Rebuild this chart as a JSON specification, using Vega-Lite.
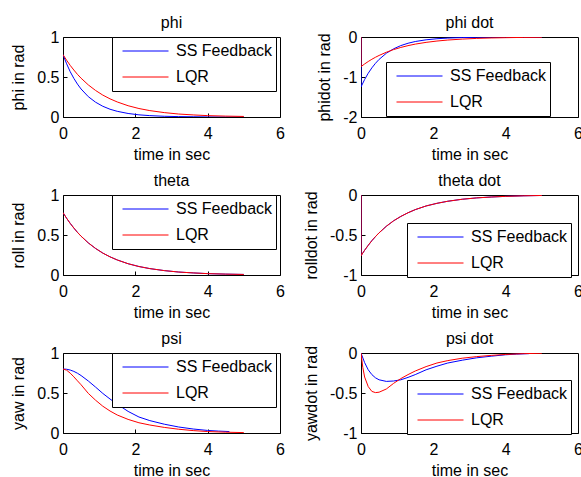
{
  "$schema": "https://vega.github.io/schema/vega-lite/v6.json",
  "padding": {"left": 10, "top": 14, "right": 0, "bottom": 0},
  "background": "white",
  "datasets": {
    "phi": [
      {"t":0,"v":0.78,"s":"SS Feedback"},{"t":0.1,"v":0.665,"s":"SS Feedback"},{"t":0.2,"v":0.566,"s":"SS Feedback"},{"t":0.3,"v":0.483,"s":"SS Feedback"},{"t":0.4,"v":0.411,"s":"SS Feedback"},{"t":0.5,"v":0.35,"s":"SS Feedback"},{"t":0.7,"v":0.254,"s":"SS Feedback"},{"t":0.9,"v":0.185,"s":"SS Feedback"},{"t":1.1,"v":0.134,"s":"SS Feedback"},{"t":1.3,"v":0.097,"s":"SS Feedback"},{"t":1.5,"v":0.071,"s":"SS Feedback"},{"t":1.8,"v":0.044,"s":"SS Feedback"},{"t":2.1,"v":0.027,"s":"SS Feedback"},{"t":2.4,"v":0.017,"s":"SS Feedback"},{"t":2.8,"v":0.009,"s":"SS Feedback"},{"t":3.2,"v":0.005,"s":"SS Feedback"},{"t":3.6,"v":0.003,"s":"SS Feedback"},{"t":4.0,"v":0.001,"s":"SS Feedback"},{"t":4.5,"v":0.0,"s":"SS Feedback"},{"t":5.0,"v":0.0,"s":"SS Feedback"},
      {"t":0,"v":0.78,"s":"LQR"},{"t":0.1,"v":0.709,"s":"LQR"},{"t":0.2,"v":0.645,"s":"LQR"},{"t":0.3,"v":0.587,"s":"LQR"},{"t":0.4,"v":0.533,"s":"LQR"},{"t":0.5,"v":0.485,"s":"LQR"},{"t":0.7,"v":0.401,"s":"LQR"},{"t":0.9,"v":0.332,"s":"LQR"},{"t":1.1,"v":0.274,"s":"LQR"},{"t":1.3,"v":0.227,"s":"LQR"},{"t":1.5,"v":0.188,"s":"LQR"},{"t":1.8,"v":0.141,"s":"LQR"},{"t":2.1,"v":0.106,"s":"LQR"},{"t":2.4,"v":0.08,"s":"LQR"},{"t":2.8,"v":0.055,"s":"LQR"},{"t":3.2,"v":0.037,"s":"LQR"},{"t":3.6,"v":0.026,"s":"LQR"},{"t":4.0,"v":0.017,"s":"LQR"},{"t":4.5,"v":0.011,"s":"LQR"},{"t":5.0,"v":0.007,"s":"LQR"}
    ],
    "phidot": [
      {"t":0,"v":0,"s":"SS Feedback"},{"t":0,"v":-1.248,"s":"SS Feedback"},{"t":0.1,"v":-1.063,"s":"SS Feedback"},{"t":0.2,"v":-0.906,"s":"SS Feedback"},{"t":0.3,"v":-0.772,"s":"SS Feedback"},{"t":0.4,"v":-0.658,"s":"SS Feedback"},{"t":0.5,"v":-0.56,"s":"SS Feedback"},{"t":0.7,"v":-0.407,"s":"SS Feedback"},{"t":0.9,"v":-0.296,"s":"SS Feedback"},{"t":1.1,"v":-0.215,"s":"SS Feedback"},{"t":1.3,"v":-0.156,"s":"SS Feedback"},{"t":1.5,"v":-0.113,"s":"SS Feedback"},{"t":1.8,"v":-0.07,"s":"SS Feedback"},{"t":2.1,"v":-0.043,"s":"SS Feedback"},{"t":2.4,"v":-0.027,"s":"SS Feedback"},{"t":2.8,"v":-0.014,"s":"SS Feedback"},{"t":3.2,"v":-0.007,"s":"SS Feedback"},{"t":3.6,"v":-0.004,"s":"SS Feedback"},{"t":4.0,"v":-0.002,"s":"SS Feedback"},{"t":4.5,"v":-0.001,"s":"SS Feedback"},{"t":5.0,"v":0,"s":"SS Feedback"},
      {"t":0,"v":0,"s":"LQR"},{"t":0,"v":-0.741,"s":"LQR"},{"t":0.1,"v":-0.674,"s":"LQR"},{"t":0.2,"v":-0.613,"s":"LQR"},{"t":0.3,"v":-0.557,"s":"LQR"},{"t":0.4,"v":-0.507,"s":"LQR"},{"t":0.5,"v":-0.461,"s":"LQR"},{"t":0.7,"v":-0.381,"s":"LQR"},{"t":0.9,"v":-0.315,"s":"LQR"},{"t":1.1,"v":-0.261,"s":"LQR"},{"t":1.3,"v":-0.216,"s":"LQR"},{"t":1.5,"v":-0.178,"s":"LQR"},{"t":1.8,"v":-0.134,"s":"LQR"},{"t":2.1,"v":-0.101,"s":"LQR"},{"t":2.4,"v":-0.076,"s":"LQR"},{"t":2.8,"v":-0.052,"s":"LQR"},{"t":3.2,"v":-0.035,"s":"LQR"},{"t":3.6,"v":-0.024,"s":"LQR"},{"t":4.0,"v":-0.017,"s":"LQR"},{"t":4.5,"v":-0.01,"s":"LQR"},{"t":5.0,"v":-0.006,"s":"LQR"}
    ],
    "theta": [
      {"t":0,"v":0.78,"s":"SS Feedback"},{"t":0.1,"v":0.709,"s":"SS Feedback"},{"t":0.2,"v":0.645,"s":"SS Feedback"},{"t":0.3,"v":0.587,"s":"SS Feedback"},{"t":0.4,"v":0.533,"s":"SS Feedback"},{"t":0.5,"v":0.485,"s":"SS Feedback"},{"t":0.7,"v":0.401,"s":"SS Feedback"},{"t":0.9,"v":0.332,"s":"SS Feedback"},{"t":1.1,"v":0.274,"s":"SS Feedback"},{"t":1.3,"v":0.227,"s":"SS Feedback"},{"t":1.5,"v":0.188,"s":"SS Feedback"},{"t":1.8,"v":0.141,"s":"SS Feedback"},{"t":2.1,"v":0.106,"s":"SS Feedback"},{"t":2.4,"v":0.08,"s":"SS Feedback"},{"t":2.8,"v":0.055,"s":"SS Feedback"},{"t":3.2,"v":0.037,"s":"SS Feedback"},{"t":3.6,"v":0.026,"s":"SS Feedback"},{"t":4.0,"v":0.017,"s":"SS Feedback"},{"t":4.5,"v":0.011,"s":"SS Feedback"},{"t":5.0,"v":0.007,"s":"SS Feedback"},
      {"t":0,"v":0.78,"s":"LQR"},{"t":0.1,"v":0.709,"s":"LQR"},{"t":0.2,"v":0.645,"s":"LQR"},{"t":0.3,"v":0.587,"s":"LQR"},{"t":0.4,"v":0.533,"s":"LQR"},{"t":0.5,"v":0.485,"s":"LQR"},{"t":0.7,"v":0.401,"s":"LQR"},{"t":0.9,"v":0.332,"s":"LQR"},{"t":1.1,"v":0.274,"s":"LQR"},{"t":1.3,"v":0.227,"s":"LQR"},{"t":1.5,"v":0.188,"s":"LQR"},{"t":1.8,"v":0.141,"s":"LQR"},{"t":2.1,"v":0.106,"s":"LQR"},{"t":2.4,"v":0.08,"s":"LQR"},{"t":2.8,"v":0.055,"s":"LQR"},{"t":3.2,"v":0.037,"s":"LQR"},{"t":3.6,"v":0.026,"s":"LQR"},{"t":4.0,"v":0.017,"s":"LQR"},{"t":4.5,"v":0.011,"s":"LQR"},{"t":5.0,"v":0.007,"s":"LQR"}
    ],
    "thetadot": [
      {"t":0,"v":0,"s":"SS Feedback"},{"t":0,"v":-0.76,"s":"SS Feedback"},{"t":0.1,"v":-0.691,"s":"SS Feedback"},{"t":0.2,"v":-0.629,"s":"SS Feedback"},{"t":0.3,"v":-0.571,"s":"SS Feedback"},{"t":0.4,"v":-0.52,"s":"SS Feedback"},{"t":0.5,"v":-0.473,"s":"SS Feedback"},{"t":0.7,"v":-0.391,"s":"SS Feedback"},{"t":0.9,"v":-0.323,"s":"SS Feedback"},{"t":1.1,"v":-0.268,"s":"SS Feedback"},{"t":1.3,"v":-0.222,"s":"SS Feedback"},{"t":1.5,"v":-0.183,"s":"SS Feedback"},{"t":1.8,"v":-0.137,"s":"SS Feedback"},{"t":2.1,"v":-0.104,"s":"SS Feedback"},{"t":2.4,"v":-0.078,"s":"SS Feedback"},{"t":2.8,"v":-0.053,"s":"SS Feedback"},{"t":3.2,"v":-0.036,"s":"SS Feedback"},{"t":3.6,"v":-0.025,"s":"SS Feedback"},{"t":4.0,"v":-0.017,"s":"SS Feedback"},{"t":4.5,"v":-0.01,"s":"SS Feedback"},{"t":5.0,"v":-0.006,"s":"SS Feedback"},
      {"t":0,"v":0,"s":"LQR"},{"t":0,"v":-0.76,"s":"LQR"},{"t":0.1,"v":-0.691,"s":"LQR"},{"t":0.2,"v":-0.629,"s":"LQR"},{"t":0.3,"v":-0.571,"s":"LQR"},{"t":0.4,"v":-0.52,"s":"LQR"},{"t":0.5,"v":-0.473,"s":"LQR"},{"t":0.7,"v":-0.391,"s":"LQR"},{"t":0.9,"v":-0.323,"s":"LQR"},{"t":1.1,"v":-0.268,"s":"LQR"},{"t":1.3,"v":-0.222,"s":"LQR"},{"t":1.5,"v":-0.183,"s":"LQR"},{"t":1.8,"v":-0.137,"s":"LQR"},{"t":2.1,"v":-0.104,"s":"LQR"},{"t":2.4,"v":-0.078,"s":"LQR"},{"t":2.8,"v":-0.053,"s":"LQR"},{"t":3.2,"v":-0.036,"s":"LQR"},{"t":3.6,"v":-0.025,"s":"LQR"},{"t":4.0,"v":-0.017,"s":"LQR"},{"t":4.5,"v":-0.01,"s":"LQR"},{"t":5.0,"v":-0.006,"s":"LQR"}
    ],
    "psi": [
      {"t":0,"v":0.8,"s":"SS Feedback"},{"t":0.1,"v":0.797,"s":"SS Feedback"},{"t":0.2,"v":0.787,"s":"SS Feedback"},{"t":0.3,"v":0.77,"s":"SS Feedback"},{"t":0.4,"v":0.747,"s":"SS Feedback"},{"t":0.5,"v":0.718,"s":"SS Feedback"},{"t":0.7,"v":0.65,"s":"SS Feedback"},{"t":0.9,"v":0.574,"s":"SS Feedback"},{"t":1.1,"v":0.495,"s":"SS Feedback"},{"t":1.3,"v":0.425,"s":"SS Feedback"},{"t":1.5,"v":0.36,"s":"SS Feedback"},{"t":1.8,"v":0.27,"s":"SS Feedback"},{"t":2.1,"v":0.2,"s":"SS Feedback"},{"t":2.4,"v":0.155,"s":"SS Feedback"},{"t":2.8,"v":0.11,"s":"SS Feedback"},{"t":3.2,"v":0.075,"s":"SS Feedback"},{"t":3.6,"v":0.05,"s":"SS Feedback"},{"t":4.0,"v":0.032,"s":"SS Feedback"},{"t":4.3,"v":0.024,"s":"SS Feedback"},{"t":4.6,"v":0.018,"s":"SS Feedback"},
      {"t":0,"v":0.8,"s":"LQR"},{"t":0.1,"v":0.785,"s":"LQR"},{"t":0.2,"v":0.748,"s":"LQR"},{"t":0.3,"v":0.702,"s":"LQR"},{"t":0.4,"v":0.652,"s":"LQR"},{"t":0.5,"v":0.603,"s":"LQR"},{"t":0.7,"v":0.495,"s":"LQR"},{"t":0.9,"v":0.41,"s":"LQR"},{"t":1.1,"v":0.335,"s":"LQR"},{"t":1.3,"v":0.275,"s":"LQR"},{"t":1.5,"v":0.225,"s":"LQR"},{"t":1.8,"v":0.17,"s":"LQR"},{"t":2.1,"v":0.128,"s":"LQR"},{"t":2.4,"v":0.1,"s":"LQR"},{"t":2.8,"v":0.07,"s":"LQR"},{"t":3.2,"v":0.047,"s":"LQR"},{"t":3.6,"v":0.03,"s":"LQR"},{"t":4.0,"v":0.018,"s":"LQR"},{"t":4.5,"v":0.01,"s":"LQR"},{"t":5.0,"v":0.005,"s":"LQR"}
    ],
    "psidot": [
      {"t":0,"v":0,"s":"SS Feedback"},{"t":0.1,"v":-0.12,"s":"SS Feedback"},{"t":0.2,"v":-0.21,"s":"SS Feedback"},{"t":0.3,"v":-0.27,"s":"SS Feedback"},{"t":0.4,"v":-0.31,"s":"SS Feedback"},{"t":0.5,"v":-0.335,"s":"SS Feedback"},{"t":0.7,"v":-0.355,"s":"SS Feedback"},{"t":0.9,"v":-0.35,"s":"SS Feedback"},{"t":1.1,"v":-0.335,"s":"SS Feedback"},{"t":1.3,"v":-0.305,"s":"SS Feedback"},{"t":1.5,"v":-0.27,"s":"SS Feedback"},{"t":1.8,"v":-0.21,"s":"SS Feedback"},{"t":2.1,"v":-0.165,"s":"SS Feedback"},{"t":2.4,"v":-0.125,"s":"SS Feedback"},{"t":2.8,"v":-0.09,"s":"SS Feedback"},{"t":3.2,"v":-0.06,"s":"SS Feedback"},{"t":3.6,"v":-0.04,"s":"SS Feedback"},{"t":4.0,"v":-0.022,"s":"SS Feedback"},{"t":4.3,"v":-0.014,"s":"SS Feedback"},{"t":4.65,"v":-0.008,"s":"SS Feedback"},
      {"t":0,"v":0,"s":"LQR"},{"t":0.05,"v":-0.18,"s":"LQR"},{"t":0.1,"v":-0.3,"s":"LQR"},{"t":0.2,"v":-0.42,"s":"LQR"},{"t":0.3,"v":-0.48,"s":"LQR"},{"t":0.4,"v":-0.495,"s":"LQR"},{"t":0.5,"v":-0.49,"s":"LQR"},{"t":0.7,"v":-0.45,"s":"LQR"},{"t":0.9,"v":-0.38,"s":"LQR"},{"t":1.1,"v":-0.32,"s":"LQR"},{"t":1.3,"v":-0.27,"s":"LQR"},{"t":1.5,"v":-0.225,"s":"LQR"},{"t":1.8,"v":-0.17,"s":"LQR"},{"t":2.1,"v":-0.125,"s":"LQR"},{"t":2.4,"v":-0.095,"s":"LQR"},{"t":2.8,"v":-0.065,"s":"LQR"},{"t":3.2,"v":-0.045,"s":"LQR"},{"t":3.6,"v":-0.03,"s":"LQR"},{"t":4.0,"v":-0.018,"s":"LQR"},{"t":4.5,"v":-0.008,"s":"LQR"},{"t":5.0,"v":-0.003,"s":"LQR"}
    ]
  },
  "columns": 2,
  "concat": [
    {
      "width": 217, "height": 80, "title": "phi",
      "data": {"name": "phi"},
      "mark": {"type": "line", "strokeWidth": 1, "clip": true},
      "encoding": {
        "x": {"field": "t", "type": "quantitative", "scale": {"domain": [0, 6], "nice": false}, "axis": {"title": "time in sec", "values": [0, 2, 4, 6]}},
        "y": {"field": "v", "type": "quantitative", "scale": {"domain": [0, 1], "nice": false}, "axis": {"title": "phi in rad", "values": [0, 0.5, 1]}},
        "color": {"field": "s", "type": "nominal", "scale": {"domain": ["SS Feedback", "LQR"], "range": ["#0000ff", "#ff0000"]}, "legend": {"title": null, "legendX": 49, "legendY": 0}}
      }
    },
    {
      "width": 217, "height": 80, "title": "phi dot",
      "data": {"name": "phidot"},
      "mark": {"type": "line", "strokeWidth": 1, "clip": true},
      "encoding": {
        "x": {"field": "t", "type": "quantitative", "scale": {"domain": [0, 6], "nice": false}, "axis": {"title": "time in sec", "values": [0, 2, 4, 6]}},
        "y": {"field": "v", "type": "quantitative", "scale": {"domain": [-2, 0], "nice": false}, "axis": {"title": "phidot in rad", "values": [-2, -1, 0]}},
        "color": {"field": "s", "type": "nominal", "scale": {"domain": ["SS Feedback", "LQR"], "range": ["#0000ff", "#ff0000"]}, "legend": {"title": null, "legendX": 25, "legendY": 25}}
      }
    },
    {
      "width": 217, "height": 80, "title": "theta",
      "data": {"name": "theta"},
      "mark": {"type": "line", "strokeWidth": 1, "clip": true},
      "encoding": {
        "x": {"field": "t", "type": "quantitative", "scale": {"domain": [0, 6], "nice": false}, "axis": {"title": "time in sec", "values": [0, 2, 4, 6]}},
        "y": {"field": "v", "type": "quantitative", "scale": {"domain": [0, 1], "nice": false}, "axis": {"title": "roll in rad", "values": [0, 0.5, 1]}},
        "color": {"field": "s", "type": "nominal", "scale": {"domain": ["SS Feedback", "LQR"], "range": ["#0000ff", "#ff0000"]}, "legend": {"title": null, "legendX": 49, "legendY": 0}}
      }
    },
    {
      "width": 217, "height": 80, "title": "theta dot",
      "data": {"name": "thetadot"},
      "mark": {"type": "line", "strokeWidth": 1, "clip": true},
      "encoding": {
        "x": {"field": "t", "type": "quantitative", "scale": {"domain": [0, 6], "nice": false}, "axis": {"title": "time in sec", "values": [0, 2, 4, 6]}},
        "y": {"field": "v", "type": "quantitative", "scale": {"domain": [-1, 0], "nice": false}, "axis": {"title": "rolldot in rad", "values": [-1, -0.5, 0]}},
        "color": {"field": "s", "type": "nominal", "scale": {"domain": ["SS Feedback", "LQR"], "range": ["#0000ff", "#ff0000"]}, "legend": {"title": null, "legendX": 46, "legendY": 28}}
      }
    },
    {
      "width": 217, "height": 80, "title": "psi",
      "data": {"name": "psi"},
      "mark": {"type": "line", "strokeWidth": 1, "clip": true},
      "encoding": {
        "x": {"field": "t", "type": "quantitative", "scale": {"domain": [0, 6], "nice": false}, "axis": {"title": "time in sec", "values": [0, 2, 4, 6]}},
        "y": {"field": "v", "type": "quantitative", "scale": {"domain": [0, 1], "nice": false}, "axis": {"title": "yaw in rad", "values": [0, 0.5, 1]}},
        "color": {"field": "s", "type": "nominal", "scale": {"domain": ["SS Feedback", "LQR"], "range": ["#0000ff", "#ff0000"]}, "legend": {"title": null, "legendX": 49, "legendY": 0}}
      }
    },
    {
      "width": 217, "height": 80, "title": "psi dot",
      "data": {"name": "psidot"},
      "mark": {"type": "line", "strokeWidth": 1, "clip": true},
      "encoding": {
        "x": {"field": "t", "type": "quantitative", "scale": {"domain": [0, 6], "nice": false}, "axis": {"title": "time in sec", "values": [0, 2, 4, 6]}},
        "y": {"field": "v", "type": "quantitative", "scale": {"domain": [-1, 0], "nice": false}, "axis": {"title": "yawdot in rad", "values": [-1, -0.5, 0]}},
        "color": {"field": "s", "type": "nominal", "scale": {"domain": ["SS Feedback", "LQR"], "range": ["#0000ff", "#ff0000"]}, "legend": {"title": null, "legendX": 46, "legendY": 27}}
      }
    }
  ],
  "spacing": {"row": 9, "column": 17},
  "resolve": {"scale": {"color": "independent"}, "legend": {"color": "independent"}},
  "config": {
    "font": "Liberation Sans",
    "view": {"stroke": "black", "strokeWidth": 1},
    "axis": {
      "grid": false, "domain": false, "ticks": true, "tickSize": -4, "tickColor": "black",
      "labelColor": "black", "titleColor": "black", "labelFontSize": 16, "titleFontSize": 16,
      "titleFontWeight": "normal", "labelFont": "Liberation Sans", "titleFont": "Liberation Sans",
      "labelFlush": false, "labelOverlap": false,
      "labelExpr": "'' + datum.value"
    },
    "axisY": {"titlePadding": 10, "labelPadding": 8},
    "axisX": {"titlePadding": 5, "labelPadding": 12},
    "title": {"fontSize": 16, "fontWeight": "normal", "font": "Liberation Sans", "color": "black", "offset": -2},
    "legend": {
      "orient": "none", "strokeColor": "black", "strokeWidth": 1, "fillColor": "white",
      "padding": 3, "symbolType": "stroke", "symbolSize": 2116, "symbolStrokeWidth": 1,
      "labelFontSize": 16, "labelFont": "Liberation Sans", "labelColor": "black",
      "clipHeight": 22, "rowPadding": 4, "symbolOffset": 7, "labelOffset": 7
    }
  }
}
